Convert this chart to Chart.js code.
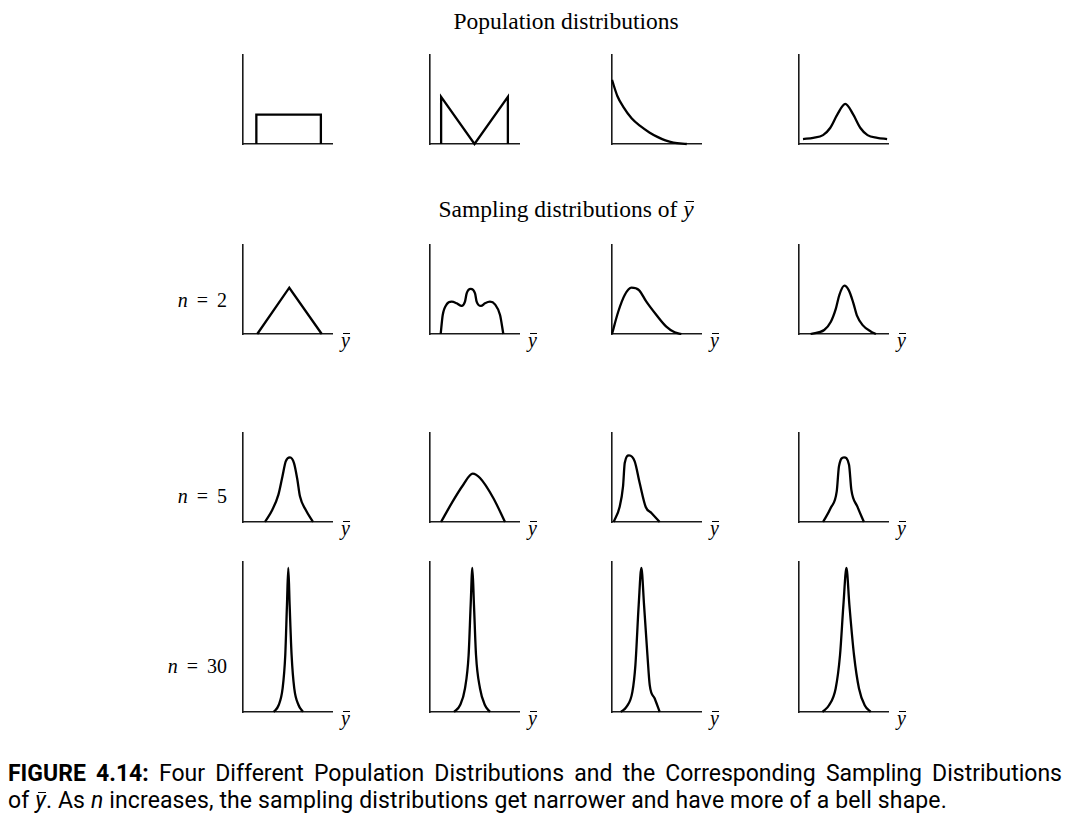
<!DOCTYPE html>
<html>
<head>
<meta charset="utf-8">
<script src="https://cdn.jsdelivr.net/npm/chart.js@4.4.0/dist/chart.umd.min.js"></script>
<style>
body { margin:0; background:#fff; width:1072px; height:828px; position:relative; overflow:hidden; }
.t { position:absolute; font-family:"Liberation Serif","Times New Roman",serif; color:#000; white-space:nowrap; line-height:1; }
.panel { position:absolute; }
.yb { position:relative; font-style:italic; }
.yb::after { content:''; position:absolute; left:0.12em; right:-0.02em; top:0.22em; border-top:1.2px solid #000; }
.cap { position:absolute; left:8px; width:1054px; height:27px; font-family:Roboto,sans-serif; font-size:23px; line-height:27px; color:#000; }
</style>
</head>
<body>
<div class="t" style="left:366px;width:400px;text-align:center;top:10px;font-size:23.5px">Population distributions</div>
<div class="t" style="left:366px;width:400px;text-align:center;top:198px;font-size:23.5px">Sampling distributions of <span class="yb">y</span></div>

<div class="t" style="right:845px;top:290px;font-size:20px"><i>n</i><span style="margin:0 9px">=</span>2</div>
<div class="t" style="right:845px;top:486px;font-size:20px"><i>n</i><span style="margin:0 9px">=</span>5</div>
<div class="t" style="right:845px;top:656px;font-size:20px"><i>n</i><span style="margin:0 9px">=</span>30</div>

<div id="ylabels"></div>

<div class="cap" style="top:760px;text-align:justify;text-align-last:justify"><b>FIGURE 4.14:</b> Four Different Population Distributions and the Corresponding Sampling Distributions</div>
<div class="cap" style="top:787px;letter-spacing:0.13px">of <span class="yb">y</span>. As <i>n</i> increases, the sampling distributions get narrower and have more of a bell shape.</div>

<script>
// each curve is a list of [x, y] (x and y both on a 0..10 panel scale)
const popUniform = [[1.5,0],[1.5,3.3],[8.75,3.3],[8.75,0]];
const popBimodal = [[1.25,0],[1.25,5.3],[5.0,0],[8.75,5.3],[8.75,0]];
const popExp = [[0,7.2],[0.6,5.4],[1.25,4.2],[2.2,2.9],[3.2,2.0],[4.2,1.3],[5.1,0.8],[6.0,0.4],[6.9,0.15],[8.4,0]];
const popBell = [[0.45,0.55],[1.6,0.7],[2.7,1.0],[3.5,1.8],[4.3,3.3],[5.2,4.5],[6.1,3.3],[6.9,1.8],[7.7,1.0],[8.8,0.7],[9.9,0.55]];

const n2Uniform = [[1.6,0],[5.2,5.2],[8.85,0]];
const n2Bimodal = [[1.2,0],[1.43,2.13],[1.87,3.33],[2.43,3.63],[3.0,3.45],[3.56,3.15],[3.93,3.63],[4.12,4.57],[4.57,5.06],[5.06,4.57],[5.24,3.63],[5.73,3.15],[6.18,3.45],[6.74,3.63],[7.3,3.33],[7.87,2.13],[8.24,0]];
const n2Exp = [[0,0],[0.7,2.5],[1.43,4.38],[2.18,5.2],[3.03,4.94],[3.86,3.63],[4.99,2.13],[6.1,0.82],[7.04,0.19],[7.8,0]];
const n2Bell = [[1.3,0],[2.83,0.45],[3.58,1.38],[4.15,2.88],[4.53,4.38],[5.09,5.43],[5.6,4.9],[6.1,3.5],[6.5,2.1],[7.15,1.0],[8.1,0.26],[8.65,0]];

const n5Uniform = [[2.47,0],[3.3,1.38],[3.98,3.07],[4.43,5.12],[4.8,6.81],[5.28,7.26],[5.73,6.62],[6.11,4.75],[6.4,2.88],[7.04,1.38],[7.87,0]];
const n5Bimodal = [[1.24,0],[2.44,2.13],[3.74,4.19],[4.79,5.43],[5.62,4.94],[7.11,2.7],[8.43,0]];
const n5Exp = [[0.19,0],[0.87,1.75],[1.24,4.0],[1.43,6.63],[1.91,7.48],[2.55,6.81],[3.11,4.38],[3.79,1.69],[4.43,1.01],[5.36,0]];
const n5Bell = [[2.7,0],[3.56,1.57],[4.24,3.44],[4.49,6.25],[5.06,7.26],[5.62,6.44],[5.88,3.63],[6.55,1.75],[7.3,0]];

const n30Uniform = [[3.44,0],[4.0,0.45],[4.45,1.57],[4.75,3.8],[4.94,7.14],[5.09,9.6],[5.24,7.14],[5.46,3.8],[5.76,1.57],[6.25,0.45],[6.74,0]];
const n30Bimodal = [[2.7,0],[3.37,0.45],[3.93,1.57],[4.34,3.8],[4.57,7.14],[4.76,9.6],[4.94,7.14],[5.17,3.8],[5.62,1.57],[6.18,0.45],[6.74,0]];
const n30Exp = [[0.98,0],[1.62,0.34],[2.29,1.34],[2.63,3.13],[3.0,7.14],[3.3,9.6],[3.6,7.14],[3.98,3.8],[4.24,1.79],[4.8,0.9],[5.36,0]];
const n30Bell = [[2.63,0],[3.37,0.45],[4.12,1.57],[4.61,3.8],[4.99,7.14],[5.33,9.6],[5.66,7.14],[6.18,3.8],[6.74,1.57],[7.38,0.45],[8.06,0]];

// panel grid on the page
const colX = [243, 430, 612, 799];
const rowTop = [55, 245, 433, 562];
const rowH = [89, 89, 89, 150];
const AX_W = 89;
const PAD = 4;

const panels = [
    [popUniform, 0, 0, true], [popBimodal, 0, 1, true], [popExp, 0, 2, false], [popBell, 0, 3, false],
    [n2Uniform, 1, 0, true], [n2Bimodal, 1, 1, false], [n2Exp, 1, 2, false], [n2Bell, 1, 3, false],
    [n5Uniform, 2, 0, false], [n5Bimodal, 2, 1, false], [n5Exp, 2, 2, false], [n5Bell, 2, 3, false],
    [n30Uniform, 3, 0, false], [n30Bimodal, 3, 1, false], [n30Exp, 3, 2, false], [n30Bell, 3, 3, false]
];

const axisOpts = {
    type: 'linear',
    min: 0,
    max: 10,
    grid: { display: false, drawTicks: false },
    ticks: { display: false },
    border: { display: true, color: '#1a1a1a', width: 1.6 }
};

function drawPanel(points, row, col, straight) {
    const c = document.createElement('canvas');
    c.width = AX_W + 2 * PAD;
    c.height = rowH[row] + 2 * PAD;
    c.className = 'panel';
    c.style.left = (colX[col] - PAD) + 'px';
    c.style.top = (rowTop[row] - PAD) + 'px';
    document.body.appendChild(c);
    new Chart(c, {
        type: 'line',
        data: {
            datasets: [{
                data: points.map(p => ({ x: p[0], y: p[1] })),
                borderColor: '#000',
                borderWidth: 2.3,
                pointRadius: 0,
                fill: false,
                clip: false,
                tension: 0,
                cubicInterpolationMode: straight ? 'default' : 'monotone'
            }]
        },
        options: {
            responsive: false,
            animation: false,
            events: [],
            layout: { padding: PAD },
            plugins: {
                legend: { display: false },
                tooltip: { enabled: false }
            },
            scales: { x: axisOpts, y: axisOpts }
        }
    });
}

panels.forEach(p => drawPanel(p[0], p[1], p[2], p[3]));

// y-bar labels under the right end of each sampling-distribution axis
const yl = document.getElementById('ylabels');
for (let r = 1; r < 4; r++) {
    for (let k = 0; k < 4; k++) {
        const d = document.createElement('div');
        d.className = 't';
        d.style.fontSize = '20px';
        d.style.left = (colX[k] + AX_W + 9) + 'px';
        d.style.top = (rowTop[r] + rowH[r] + 13 - 17) + 'px';
        d.innerHTML = '<span class="yb">y</span>';
        yl.appendChild(d);
    }
}
</script>
</body>
</html>
